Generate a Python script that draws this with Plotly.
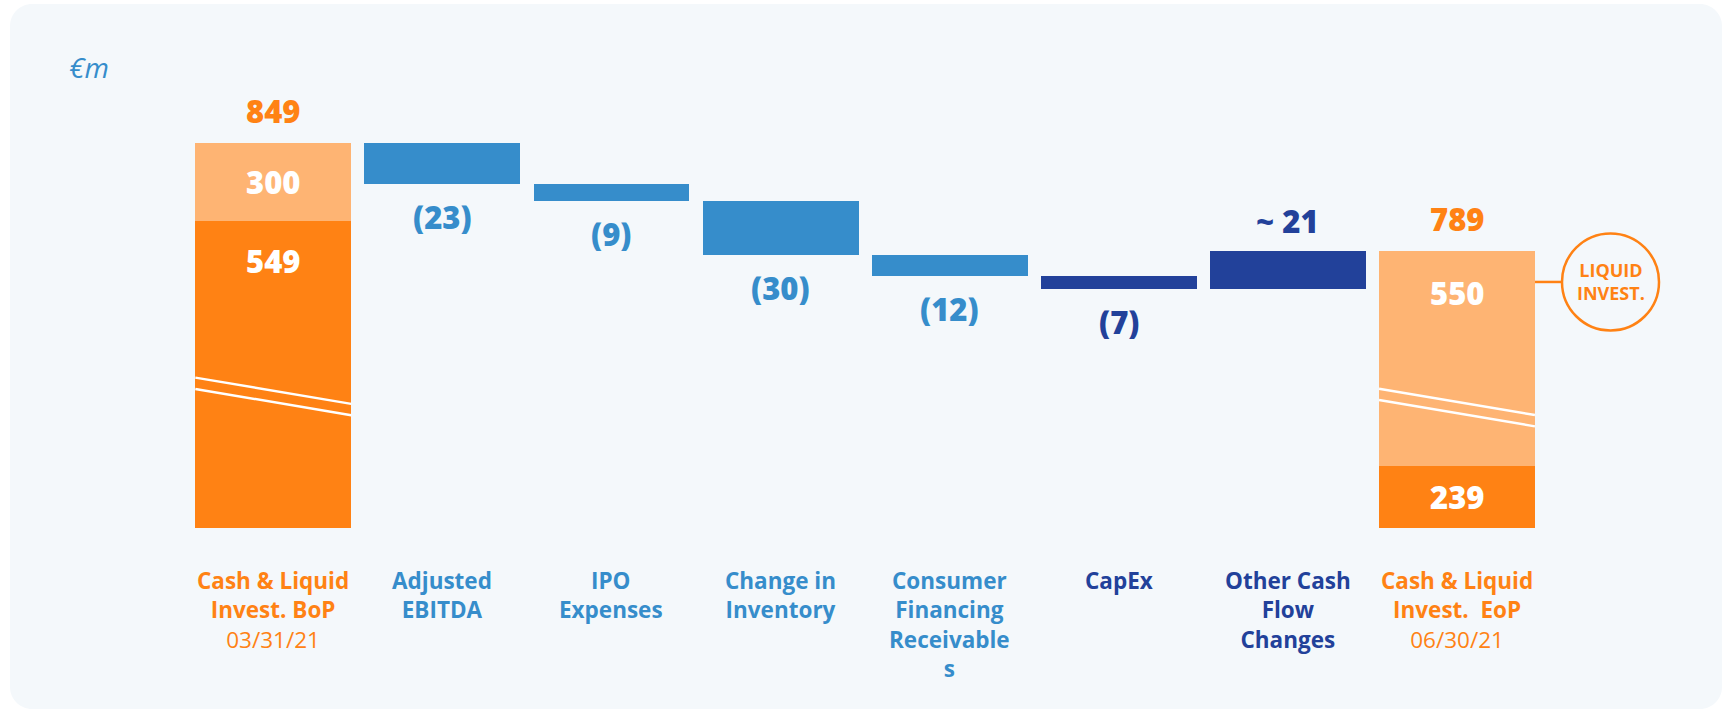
import plotly.graph_objects as go

# ---------------- data ----------------
CATEGORY_LABELS = [
    "Cash & Liquid<br>Invest. BoP",
    "Adjusted<br>EBITDA",
    "IPO<br>Expenses",
    "Change in<br>Inventory",
    "Consumer<br>Financing<br>Receivable<br>s",
    "CapEx",
    "Other Cash<br>Flow<br>Changes",
    "Cash & Liquid<br>Invest.  EoP",
]
DATE_LABELS = ["03/31/21", "06/30/21"]
START_CASH = 549
START_LIQUID = 300
END_CASH = 239
END_LIQUID = 550
DELTAS = [-23, -9, -30, -12, -7, 21]
DELTA_APPROX = [False, False, False, False, False, True]
UNIT_LABEL = "€m"
CALLOUT_TEXT = "LIQUID<br>INVEST."

# ---------------- style ----------------
ORANGE = "#FF8214"
LIGHT_ORANGE = "#FEB473"
BLUE = "#368DCB"
NAVY = "#22419A"
PANEL = "#F4F8FB"
DELTA_COLORS = [BLUE, BLUE, BLUE, BLUE, NAVY, NAVY]
LABEL_COLORS = [ORANGE, BLUE, BLUE, BLUE, BLUE, NAVY, NAVY, ORANGE]
FONT = "Open Sans"

W, H = 1723, 710
MARGIN_B = 182
X_RANGE = [-1.616, 8.573]
Y_RANGE = [635, 928.5]          # broken value axis: totals run down to the floor
BAR_W = 0.922
SEG_SCALE = 0.145               # compressed scale for segments of broken total bars
BREAK_TOP = [718.6, 712.4]      # where the break marks start on the two total bars
BREAK_DROP = 14.6
BREAK_GAP = 6.3

# ---------------- derived ----------------
start_total = START_CASH + START_LIQUID
level = start_total
delta_base, delta_h, delta_top = [], [], []
for d in DELTAS:
    lo = min(level, level + d)
    delta_base.append(lo)
    delta_h.append(abs(d))
    delta_top.append(lo + abs(d))
    level += d
end_total = level
assert end_total == END_CASH + END_LIQUID

floor = Y_RANGE[0]
n = len(CATEGORY_LABELS)
delta_x = list(range(1, n - 1))
first_x, last_x = 0, n - 1

bop_liq_h = START_LIQUID * SEG_SCALE
bop_cash_top = start_total - bop_liq_h
eop_cash_h = END_CASH * SEG_SCALE
eop_cash_top = floor + eop_cash_h

fig = go.Figure()

# cash (dark orange) segments
fig.add_trace(go.Bar(
    x=[first_x, last_x],
    base=[floor, floor],
    y=[bop_cash_top - floor, eop_cash_h],
    width=BAR_W, marker=dict(color=ORANGE, line=dict(width=0)),
    hoverinfo="skip", showlegend=False,
))
# liquid investments (light orange) segments
fig.add_trace(go.Bar(
    x=[first_x, last_x],
    base=[bop_cash_top, eop_cash_top],
    y=[bop_liq_h, end_total - eop_cash_top],
    width=BAR_W, marker=dict(color=LIGHT_ORANGE, line=dict(width=0)),
    hoverinfo="skip", showlegend=False,
))
# floating delta bars
fig.add_trace(go.Bar(
    x=delta_x, base=delta_base, y=delta_h,
    width=BAR_W, marker=dict(color=DELTA_COLORS, line=dict(width=0)),
    hoverinfo="skip", showlegend=False,
))

ann = []
val_font = lambda c: dict(family=FONT, size=31, color=c, weight=800)

# totals
ann.append(dict(x=first_x, y=start_total, text=str(start_total), yshift=32,
                font=val_font(ORANGE)))
ann.append(dict(x=last_x, y=end_total, text=str(end_total), yshift=32,
                font=val_font(ORANGE)))
# segment values
ann.append(dict(x=first_x, y=bop_cash_top + bop_liq_h / 2, text=str(START_LIQUID),
                font=val_font("white")))
ann.append(dict(x=first_x, y=bop_cash_top, text=str(START_CASH), yshift=-40,
                font=val_font("white")))
ann.append(dict(x=last_x, y=end_total, text=str(END_LIQUID), yshift=-42,
                font=val_font("white")))
ann.append(dict(x=last_x, y=floor + eop_cash_h / 2, text=str(END_CASH),
                font=val_font("white")))
# delta values
for xi, d, b, t, c, approx in zip(delta_x, DELTAS, delta_base, delta_top,
                                  DELTA_COLORS, DELTA_APPROX):
    if d < 0:
        txt = f"({abs(d)})"
        ann.append(dict(x=xi, y=b, text=txt, yshift=-33, font=val_font(c)))
    else:
        txt = f"~ {d}" if approx else str(d)
        ann.append(dict(x=xi, y=t, text=txt, yshift=30, font=val_font(c)))

# category labels (dates appended as a lighter third line)
dates = {first_x: DATE_LABELS[0], last_x: DATE_LABELS[1]}
for i, (lab, col) in enumerate(zip(CATEGORY_LABELS, LABEL_COLORS)):
    txt = lab
    if i in dates:
        txt += f"<br><span style='font-weight:400'>{dates[i]}</span>"
    ann.append(dict(x=i, y=floor, text=txt, yanchor="top", yshift=-35,
                    font=dict(family=FONT, size=22.5, color=col, weight=700)))

# unit label
ann.append(dict(xref="paper", yref="paper", x=67 / W, y=(H - MARGIN_B - 67) / (H - MARGIN_B),
                xanchor="left", text=UNIT_LABEL,
                font=dict(family=FONT, size=28, color=BLUE, style="italic")))

# callout text
ann.append(dict(x=last_x, y=end_total, xshift=153.5, yshift=-31, text=CALLOUT_TEXT,
                font=dict(family=FONT, size=18, color=ORANGE, weight=700)))

for a in ann:
    a.setdefault("xref", "x")
    a.setdefault("yref", "y")
    a.setdefault("showarrow", False)
    a.setdefault("xanchor", "center")
    a.setdefault("yanchor", "middle")

# ---------------- shapes ----------------
shapes = []
# rounded panel background (paper coords)
pa_h = H - MARGIN_B
def px(xp):
    return xp / W
def py(yp):
    return (pa_h - yp) / pa_h
L, T, R, B, r = 10, 4, 1722, 709, 22
k = 0.45
path = (
    f"M {px(L + r)},{py(T)} L {px(R - r)},{py(T)} "
    f"C {px(R - r * k)},{py(T)} {px(R)},{py(T + r * k)} {px(R)},{py(T + r)} "
    f"L {px(R)},{py(B - r)} "
    f"C {px(R)},{py(B - r * k)} {px(R - r * k)},{py(B)} {px(R - r)},{py(B)} "
    f"L {px(L + r)},{py(B)} "
    f"C {px(L + r * k)},{py(B)} {px(L)},{py(B - r * k)} {px(L)},{py(B - r)} "
    f"L {px(L)},{py(T + r)} "
    f"C {px(L)},{py(T + r * k)} {px(L + r * k)},{py(T)} {px(L + r)},{py(T)} Z"
)
shapes.append(dict(type="path", xref="paper", yref="paper", path=path,
                   fillcolor=PANEL, line=dict(width=0), layer="below"))

# break marks on the two broken total bars
for xi, top in zip([first_x, last_x], BREAK_TOP):
    for off in (0, BREAK_GAP):
        shapes.append(dict(type="line", xref="x", yref="y",
                           x0=xi - BAR_W / 2, x1=xi + BAR_W / 2,
                           y0=top - off, y1=top - off - BREAK_DROP,
                           line=dict(color="white", width=2.5), layer="above"))

# callout circle + connector
shapes.append(dict(type="line", xref="x", yref="y", xsizemode="pixel", ysizemode="pixel",
                   xanchor=last_x, yanchor=end_total, x0=78, x1=105, y0=-31, y1=-31,
                   line=dict(color=ORANGE, width=2.5)))
shapes.append(dict(type="circle", xref="x", yref="y", xsizemode="pixel", ysizemode="pixel",
                   xanchor=last_x, yanchor=end_total, x0=105, x1=202, y0=-79.5, y1=17.5,
                   line=dict(color=ORANGE, width=2.5), fillcolor=PANEL))

fig.update_layout(
    width=W, height=H, autosize=False,
    margin=dict(l=0, r=0, t=0, b=MARGIN_B, pad=0),
    paper_bgcolor="white", plot_bgcolor="rgba(0,0,0,0)",
    barmode="overlay", bargap=0,
    xaxis=dict(range=X_RANGE, visible=False, fixedrange=True),
    yaxis=dict(range=Y_RANGE, visible=False, fixedrange=True),
    annotations=ann, shapes=shapes,
    font=dict(family=FONT),
)
fig.update_traces(cliponaxis=False)

fig.write_html("out.html", config={"displayModeBar": False},
               post_script="document.body.style.margin='0px';document.body.style.overflow='hidden';")
